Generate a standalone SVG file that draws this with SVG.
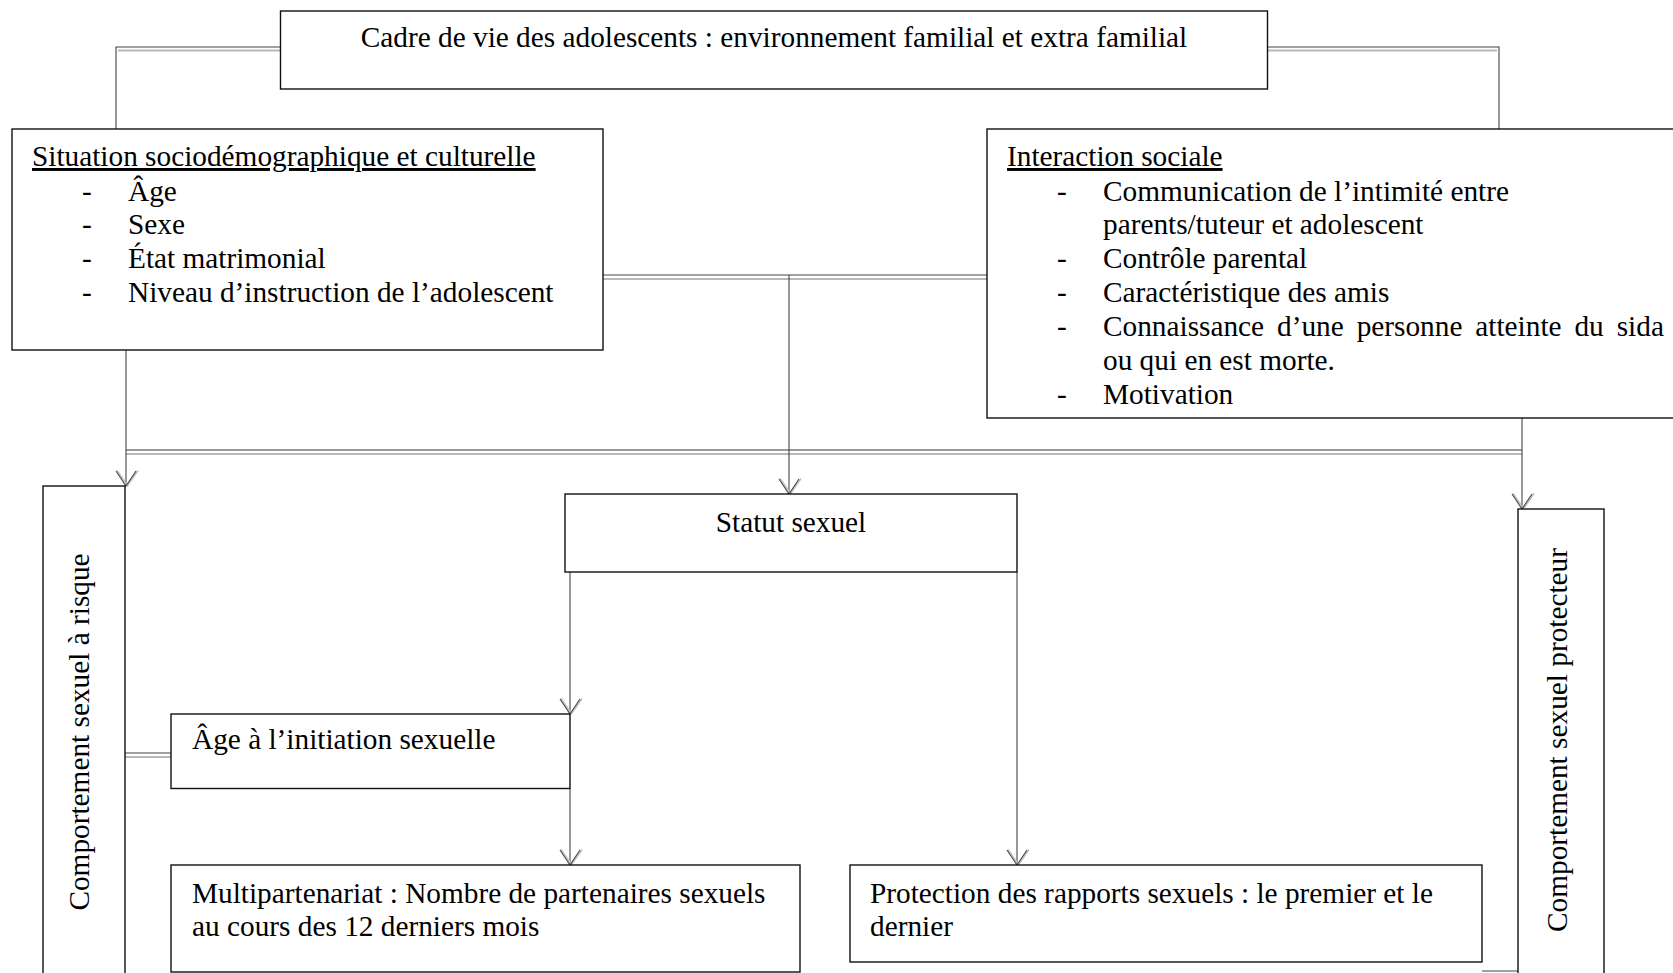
<svg xmlns="http://www.w3.org/2000/svg" width="1673" height="973" viewBox="0 0 1673 973">
<style>
.box{fill:#fff;stroke:#111;stroke-width:1.4}
.t{font-family:"Liberation Serif","Times New Roman",serif;font-size:29.3px;fill:#000}
.u{text-decoration:underline}
.ln{stroke:#444;stroke-width:1.1;fill:none}
.ln2{stroke:#777;stroke-width:1.4;fill:none}
.sh{stroke:#b8b8b8;stroke-width:1.8;fill:none}
</style>
<defs>
<marker id="arr" markerUnits="userSpaceOnUse" markerWidth="24" markerHeight="24" viewBox="-18 -12 20 24" refX="0" refY="0" orient="auto" overflow="visible">
<path d="M-15,-10.5 L0,0 L-15,10.5" fill="none" stroke="#c0c0c0" stroke-width="1.6" transform="translate(-0.5,-1.5)"/>
<path d="M-15,-10 L0,0 L-15,10" fill="none" stroke="#444" stroke-width="1.1"/>
</marker>
</defs>
<g id="connectors">
<path class="ln" d="M280,47 H116 V130"/>
<path class="sh" d="M280,50.5 H118"/>
<path class="ln" d="M1268,47 H1499 V130"/>
<path class="sh" d="M1268,50.5 H1497"/>
<path class="ln" d="M603,275 H987"/>
<path class="sh" d="M603,279 H987"/>
<path class="ln2" d="M126,450 H1522"/>
<path class="sh" d="M126,454 H1522"/>
<path class="ln" d="M789,275 V494" marker-end="url(#arr)"/>
<path class="ln" d="M126,350 V486" marker-end="url(#arr)"/>
<path class="ln" d="M1522,418 V509" marker-end="url(#arr)"/>
<path class="ln" d="M570,572 V714" marker-end="url(#arr)"/>
<path class="ln" d="M570,788.5 V865" marker-end="url(#arr)"/>
<path class="ln" d="M1017,572 V865" marker-end="url(#arr)"/>
<path class="ln" d="M125,753 H171"/>
<path class="sh" d="M125,757 H171"/>
<path class="ln" d="M1482,971 H1518"/>
</g>
<g id="cadre">
<rect class="box" x="280.5" y="11" width="987" height="78"/>
<text class="t" x="774" y="47" text-anchor="middle">Cadre de vie des adolescents : environnement familial et extra familial</text>
</g>
<g id="situation">
<rect class="box" x="12" y="129" width="591" height="221"/>
<text class="t u" x="32" y="166">Situation sociodémographique et culturelle</text>
<text class="t" x="82" y="201">-</text><text class="t" x="128" y="201">Âge</text>
<text class="t" x="82" y="234">-</text><text class="t" x="128" y="234">Sexe</text>
<text class="t" x="82" y="268">-</text><text class="t" x="128" y="268">État matrimonial</text>
<text class="t" x="82" y="302">-</text><text class="t" x="128" y="302">Niveau d’instruction de l’adolescent</text>
</g>
<g id="interaction">
<rect class="box" x="987" y="129" width="700" height="289"/>
<text class="t u" x="1007" y="166">Interaction sociale</text>
<text class="t" x="1057" y="201">-</text><text class="t" x="1103" y="201">Communication de l’intimité entre</text>
<text class="t" x="1103" y="234">parents/tuteur et adolescent</text>
<text class="t" x="1057" y="268">-</text><text class="t" x="1103" y="268">Contrôle parental</text>
<text class="t" x="1057" y="302">-</text><text class="t" x="1103" y="302">Caractéristique des amis</text>
<text class="t" x="1057" y="336">-</text><text class="t" x="1103" y="336" word-spacing="5.6">Connaissance d’une personne atteinte du sida</text>
<text class="t" x="1103" y="370">ou qui en est morte.</text>
<text class="t" x="1057" y="404">-</text><text class="t" x="1103" y="404">Motivation</text>
</g>
<g id="risque">
<rect class="box" x="43" y="486" width="82" height="500"/>
<text class="t" transform="translate(89,732) rotate(-90)" text-anchor="middle">Comportement sexuel à risque</text>
</g>
<g id="protecteur">
<rect class="box" x="1518" y="509" width="86" height="480"/>
<text class="t" transform="translate(1567,740) rotate(-90)" text-anchor="middle">Comportement sexuel protecteur</text>
</g>
<g id="statut">
<rect class="box" x="565" y="494" width="452" height="78"/>
<text class="t" x="791" y="532" text-anchor="middle">Statut sexuel</text>
</g>
<g id="age">
<rect class="box" x="171" y="714" width="399" height="74.5"/>
<text class="t" x="192" y="749">Âge à l’initiation sexuelle</text>
</g>
<g id="multipartenariat">
<rect class="box" x="171" y="865" width="629" height="107"/>
<text class="t" x="192" y="903">Multipartenariat : Nombre de partenaires sexuels</text>
<text class="t" x="192" y="936">au cours des 12 derniers mois</text>
</g>
<g id="protection">
<rect class="box" x="850" y="865" width="632" height="97"/>
<text class="t" x="870" y="903">Protection des rapports sexuels : le premier et le</text>
<text class="t" x="870" y="936">dernier</text>
</g>
</svg>
